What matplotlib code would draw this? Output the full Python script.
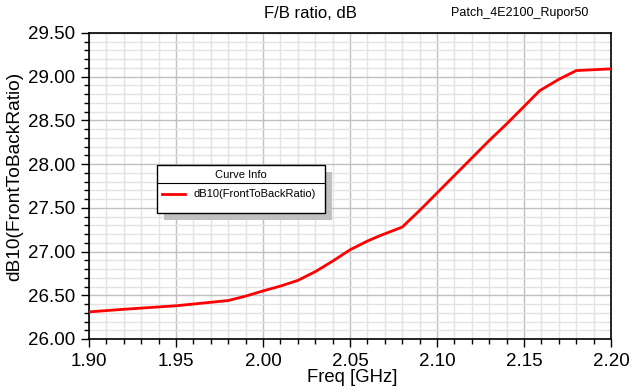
import matplotlib
matplotlib.use("Agg")
import matplotlib.pyplot as plt
from matplotlib.patches import Rectangle
from matplotlib.lines import Line2D
from matplotlib.ticker import MultipleLocator, FormatStrFormatter

freq = [1.90, 1.91, 1.92, 1.935, 1.95, 1.965, 1.98, 1.99, 2.00, 2.01, 2.02, 2.03,
        2.04, 2.05, 2.06, 2.067, 2.08, 2.09, 2.10, 2.11, 2.12, 2.13, 2.14, 2.15,
        2.159, 2.17, 2.18, 2.19, 2.20]
fb_db = [26.31, 26.325, 26.34, 26.36, 26.38, 26.41, 26.44, 26.49, 26.55, 26.605, 26.67, 26.77,
         26.89, 27.02, 27.12, 27.18, 27.28, 27.47, 27.67, 27.87, 28.07, 28.27, 28.46, 28.66,
         28.84, 28.97, 29.07, 29.08, 29.09]

plt.rcParams['font.family'] = ['Liberation Sans', 'DejaVu Sans']

fig = plt.figure(figsize=(6.36, 3.89), dpi=100)
ax = fig.add_axes([89/636, 50/389, 522/636, 306/389])

ax.plot(freq, fb_db, color='#ff0000', lw=2.0, solid_joinstyle='round', zorder=3)

ax.set_xlim(1.90, 2.20)
ax.set_ylim(26.0, 29.5)
ax.xaxis.set_major_locator(MultipleLocator(0.05))
ax.xaxis.set_minor_locator(MultipleLocator(0.01))
ax.yaxis.set_major_locator(MultipleLocator(0.5))
ax.yaxis.set_minor_locator(MultipleLocator(0.1))
ax.xaxis.set_major_formatter(FormatStrFormatter('%.2f'))
ax.yaxis.set_major_formatter(FormatStrFormatter('%.2f'))

ax.grid(which='major', color='#c0c0c0', lw=1.0)
ax.grid(which='minor', color='#e3e3e3', lw=1.0)
ax.set_axisbelow(True)
ax.tick_params(which='major', direction='out', length=6, width=1, labelsize=13.5, pad=4)
ax.tick_params(which='minor', direction='out', length=3.5, width=1)
ax.tick_params(axis='x', which='both', top=False)
ax.tick_params(axis='y', which='both', right=False)
for s in ax.spines.values():
    s.set_color('black')
    s.set_linewidth(1.2)

fig.text(15/636, 1 - 176/389, 'dB10(FrontToBackRatio)', rotation=90,
         ha='center', va='center', fontsize=13.8)
fig.text(352/636, 1 - 377/389, 'Freq [GHz]', ha='center', va='center', fontsize=13.3)
fig.text(310/636, 1 - 13/389, 'F/B ratio, dB', ha='center', va='center', fontsize=12)
fig.text(520/636, 1 - 13/389, 'Patch_4E2100_Rupor50', ha='center', va='center', fontsize=9)

# legend box
lx0, lx1, ly0, ly1 = 157, 325, 165, 213
W, H = 636, 389
fig.patches.append(Rectangle(((lx0 + 7)/W, 1 - (ly1 + 7)/H), (lx1 - lx0)/W, (ly1 - ly0)/H,
                             transform=fig.transFigure, facecolor='#c0c0c0',
                             edgecolor='none', zorder=5))
fig.patches.append(Rectangle((lx0/W, 1 - ly1/H), (lx1 - lx0)/W, (ly1 - ly0)/H,
                             transform=fig.transFigure, facecolor='white',
                             edgecolor='black', lw=1.0, zorder=6))
fig.lines.append(Line2D([lx0/W, lx1/W], [1 - 183/H, 1 - 183/H], transform=fig.transFigure,
                        color='black', lw=0.8, zorder=7))
fig.text((lx0 + lx1)/2/W, 1 - 175/H, 'Curve Info', ha='center', va='center',
         fontsize=8, zorder=8)
fig.lines.append(Line2D([162/W, 185/W], [1 - 194/H, 1 - 194/H], transform=fig.transFigure,
                        color='#ff0000', lw=2.0, zorder=7))
fig.text(193/W, 1 - 194/H, 'dB10(FrontToBackRatio)', ha='left', va='center',
         fontsize=8, zorder=8)

fig.savefig('out.png', dpi=100)
